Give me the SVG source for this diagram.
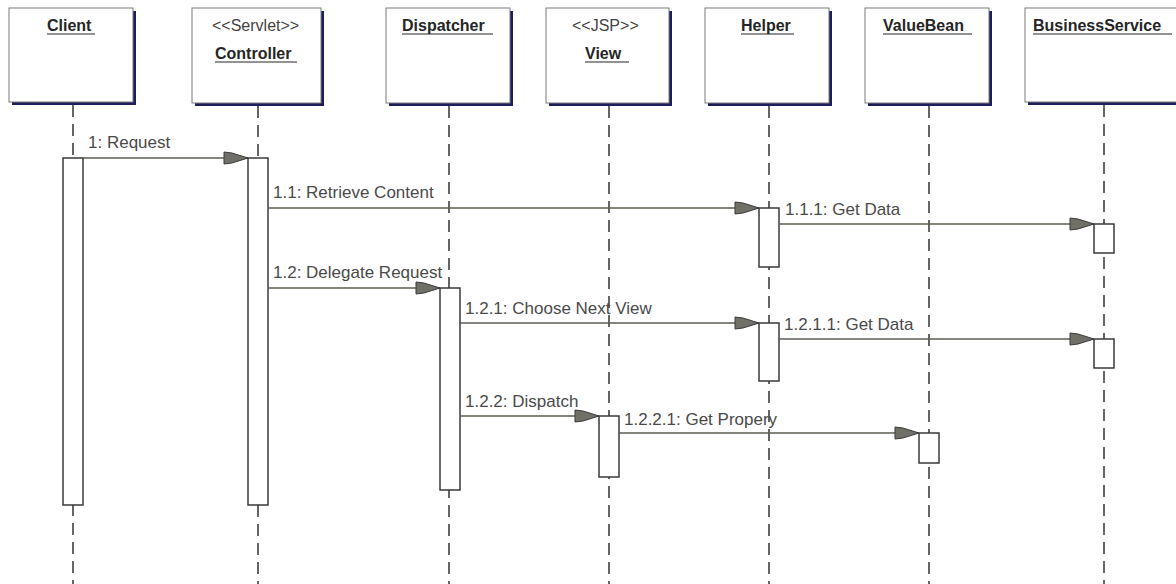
<svg xmlns="http://www.w3.org/2000/svg" width="1176" height="584" viewBox="0 0 1176 584">
  <style>
    .shadow { fill: #1e1e5a; }
    .box { fill: #ffffff; stroke: #7a7a7a; stroke-width: 1; }
    .name { font-family: "Liberation Sans", Arial, sans-serif; font-size: 16px; font-weight: bold; fill: #262626; }
    .stereo { font-family: "Liberation Sans", Arial, sans-serif; font-size: 16px; fill: #444444; }
    .uline { stroke: #262626; stroke-width: 1.2; }
    .life { stroke: #333333; stroke-width: 1.5; stroke-dasharray: 12 7; fill: none; }
    .act { fill: #ffffff; stroke: #3a3a3a; stroke-width: 1.5; }
    .msg { stroke: #5c5c52; stroke-width: 1.5; fill: none; marker-end: url(#head); }
    .label { font-family: "Liberation Sans", Arial, sans-serif; font-size: 17px; fill: #4a4a4a; }
  </style>
  <defs>
    <marker id="head" markerUnits="userSpaceOnUse" viewBox="0 0 26 14" markerWidth="26" markerHeight="14" refX="25" refY="7" orient="auto">
      <path d="M1,1 L9,2 L25,7 L9,12 L1,13 Z" fill="#707068" stroke="#3a3a3a" stroke-width="1"/>
    </marker>
  </defs>
  <rect width="1176" height="584" fill="#ffffff"/>

  <!-- lifelines -->
  <g id="lifelines">
    <line class="life" x1="73" y1="105" x2="73" y2="584"/>
    <line class="life" x1="258" y1="106" x2="258" y2="584"/>
    <line class="life" x1="449" y1="106" x2="449" y2="584"/>
    <line class="life" x1="609" y1="106" x2="609" y2="584"/>
    <line class="life" x1="769" y1="106" x2="769" y2="584"/>
    <line class="life" x1="929" y1="106" x2="929" y2="584"/>
    <line class="life" x1="1104" y1="105" x2="1104" y2="584"/>
  </g>

  <!-- objects -->
  <g id="client">
    <rect class="shadow" x="12" y="11" width="124" height="94"/>
    <rect class="box" x="9" y="8" width="124" height="94"/>
    <text class="name" x="47" y="31">Client</text>
    <line class="uline" x1="47" y1="34" x2="95" y2="34"/>
    <rect class="act" x="63" y="158" width="20" height="347"/>
  </g>
  <g id="controller">
    <rect class="shadow" x="195" y="11" width="129" height="95"/>
    <rect class="box" x="192" y="8" width="129" height="95"/>
    <text class="stereo" x="212" y="31">&lt;&lt;Servlet&gt;&gt;</text>
    <text class="name" x="215" y="59">Controller</text>
    <line class="uline" x1="215" y1="62" x2="297" y2="62"/>
    <rect class="act" x="248" y="158" width="20" height="347"/>
  </g>
  <g id="dispatcher">
    <rect class="shadow" x="389" y="11" width="124" height="95"/>
    <rect class="box" x="386" y="8" width="124" height="95"/>
    <text class="name" x="402" y="31">Dispatcher</text>
    <line class="uline" x1="402" y1="34" x2="493" y2="34"/>
    <rect class="act" x="440" y="288" width="20" height="202"/>
  </g>
  <g id="view">
    <rect class="shadow" x="549" y="11" width="123" height="95"/>
    <rect class="box" x="546" y="8" width="123" height="95"/>
    <text class="stereo" x="572" y="31">&lt;&lt;JSP&gt;&gt;</text>
    <text class="name" x="585" y="59">View</text>
    <line class="uline" x1="585" y1="62" x2="629" y2="62"/>
    <rect class="act" x="599" y="416" width="20" height="61"/>
  </g>
  <g id="helper">
    <rect class="shadow" x="708" y="11" width="124" height="95"/>
    <rect class="box" x="705" y="8" width="124" height="95"/>
    <text class="name" x="741" y="31">Helper</text>
    <line class="uline" x1="741" y1="34" x2="794" y2="34"/>
    <rect class="act" x="759" y="208" width="20" height="59"/>
    <rect class="act" x="759" y="323" width="20" height="58"/>
  </g>
  <g id="valuebean">
    <rect class="shadow" x="868" y="11" width="124" height="95"/>
    <rect class="box" x="865" y="8" width="124" height="95"/>
    <text class="name" x="883" y="31">ValueBean</text>
    <line class="uline" x1="883" y1="34" x2="972" y2="34"/>
    <rect class="act" x="919" y="433" width="20" height="30"/>
  </g>
  <g id="businessservice">
    <rect class="shadow" x="1028" y="11" width="170" height="94"/>
    <rect class="box" x="1025" y="8" width="170" height="94"/>
    <text class="name" x="1033" y="31">BusinessService</text>
    <line class="uline" x1="1033" y1="34" x2="1172" y2="34"/>
    <rect class="act" x="1094" y="224" width="20" height="29"/>
    <rect class="act" x="1094" y="339" width="20" height="29"/>
  </g>

  <!-- messages -->
  <g id="connectors">
    <line class="msg" x1="83" y1="158" x2="248" y2="158"/>
    <text class="label" x="88" y="148">1: Request</text>

    <line class="msg" x1="268" y1="208" x2="759" y2="208"/>
    <text class="label" x="273" y="198">1.1: Retrieve Content</text>

    <line class="msg" x1="779" y1="224" x2="1094" y2="224"/>
    <text class="label" x="785" y="215">1.1.1: Get Data</text>

    <line class="msg" x1="268" y1="288" x2="440" y2="288"/>
    <text class="label" x="273" y="278">1.2: Delegate Request</text>

    <line class="msg" x1="460" y1="323" x2="759" y2="323"/>
    <text class="label" x="465" y="314">1.2.1: Choose Next View</text>

    <line class="msg" x1="779" y1="339" x2="1094" y2="339"/>
    <text class="label" x="784" y="330">1.2.1.1: Get Data</text>

    <line class="msg" x1="460" y1="416" x2="599" y2="416"/>
    <text class="label" x="465" y="407">1.2.2: Dispatch</text>

    <line class="msg" x1="619" y1="433" x2="919" y2="433"/>
    <text class="label" x="624" y="425">1.2.2.1: Get Propery</text>
  </g>
</svg>
